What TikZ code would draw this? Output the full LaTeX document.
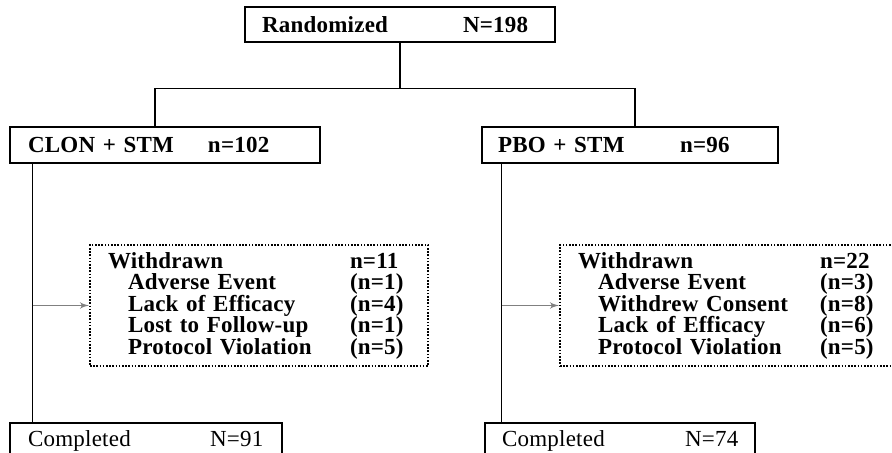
\documentclass[tikz,border=0pt]{standalone}
\usepackage{fontspec}
\setmainfont{Liberation Serif}[LetterSpace=1]
\usepackage{tikz}
\usepackage{xcolor}
\usetikzlibrary{shapes.geometric, arrows}
\newcommand{\pair}[3]{\makebox[#1][l]{#2}#3}
\tikzstyle{every node}=[font=\fontsize{11.5}{10.75}\selectfont\bfseries]
\tikzstyle{block} = [rectangle, draw, line width=1.4pt, align=left, inner xsep=9pt, inner ysep=0pt, minimum height=18pt]
\tikzstyle{dropout} = [rectangle, draw, dash pattern=on 0.8pt off 0.8pt, line width=1pt, align=left, inner xsep=9pt, inner ysep=0pt, minimum height=60.5pt]
\tikzstyle{line} = [draw, line width=0.75pt]
\tikzstyle{arrow} = [draw, line width=0.6pt, gray, -latex']

\begin{document}
\begin{tikzpicture}
    \useasboundingbox (0,0) rectangle (446pt,-226.5pt);
    \clip (0,0) rectangle (446pt,-226.5pt);
    % Place nodes
    \node [block, inner xsep=8.5pt, text width=138pt, minimum height=17.5pt] (rand) at (200pt,-12.25pt) {\pair{100.5pt}{Randomized}{N=198}};
    \node [block, text width=137pt, below of=rand, node distance=60.25pt, xshift=-117.5pt] (clon) {\pair{90pt}{CLON + STM}{n=102}};
    \node [block, inner xsep=8pt, text width=132pt, right of=clon, node distance=232.5pt] (pbo) {\pair{91pt}{PBO + STM}{n=96}};
    \node [dropout, text width=151pt, below of=clon, node distance=80.25pt, xshift=47pt] (lwd) {\pair{121pt}{Withdrawn}{n=11}\\
        \pair{121pt}{\hspace*{10pt}Adverse Event}{(n=1)}\\
        \pair{121pt}{\hspace*{10pt}Lack of Efficacy}{(n=4)}\\
        \pair{121pt}{\hspace*{10pt}Lost to Follow-up}{(n=1)}\\
        \pair{121pt}{\hspace*{10pt}Protocol Violation}{(n=5)}};
    \node [dropout, text width=152pt, right of=lwd, node distance=235.5pt] (rwd) {\pair{121pt}{Withdrawn}{n=22}\\
        \pair{121pt}{\hspace*{10pt}Adverse Event}{(n=3)}\\
        \pair{121pt}{\hspace*{10pt}Withdrew Consent}{(n=8)}\\
        \pair{121pt}{\hspace*{10pt}Lack of Efficacy}{(n=6)}\\
        \pair{121pt}{\hspace*{10pt}Protocol Violation}{(n=5)}};
    \node [block, font=\fontsize{11.5}{10.75}\selectfont, text width=118pt, below of=clon, node distance=148pt, xshift=-9.5pt] (lcomp) {\pair{91pt}{Completed}{N=91}};
    \node [block, font=\fontsize{11.5}{10.75}\selectfont, inner xsep=8.5pt, text width=118pt, right of=lcomp, node distance=237pt] (rcomp) {\pair{91.5pt}{Completed}{N=74}};
    % Points where the lines split or run down
    \coordinate (lsplit) at ([xshift=-5pt]clon.north);
    \coordinate (rsplit) at ([xshift=2.5pt]pbo.north);
    \coordinate (ltrunk) at ([xshift=12pt]clon.south west);
    \coordinate (rtrunk) at ([xshift=10.5pt]pbo.south west);
    % Draw edges
    \path [line] (rand.south) -- ++(0,-22.5pt) coordinate (split) -| (lsplit);
    \path [line] (split) -| (rsplit);
    \path [line] (ltrunk) -- (ltrunk |- lcomp.north);
    \path [line] (rtrunk) -- (rtrunk |- rcomp.north);
    \path [arrow] (ltrunk |- lwd.west) -- (lwd.west);
    \path [arrow] (rtrunk |- rwd.west) -- (rwd.west);
\end{tikzpicture}
\end{document}
